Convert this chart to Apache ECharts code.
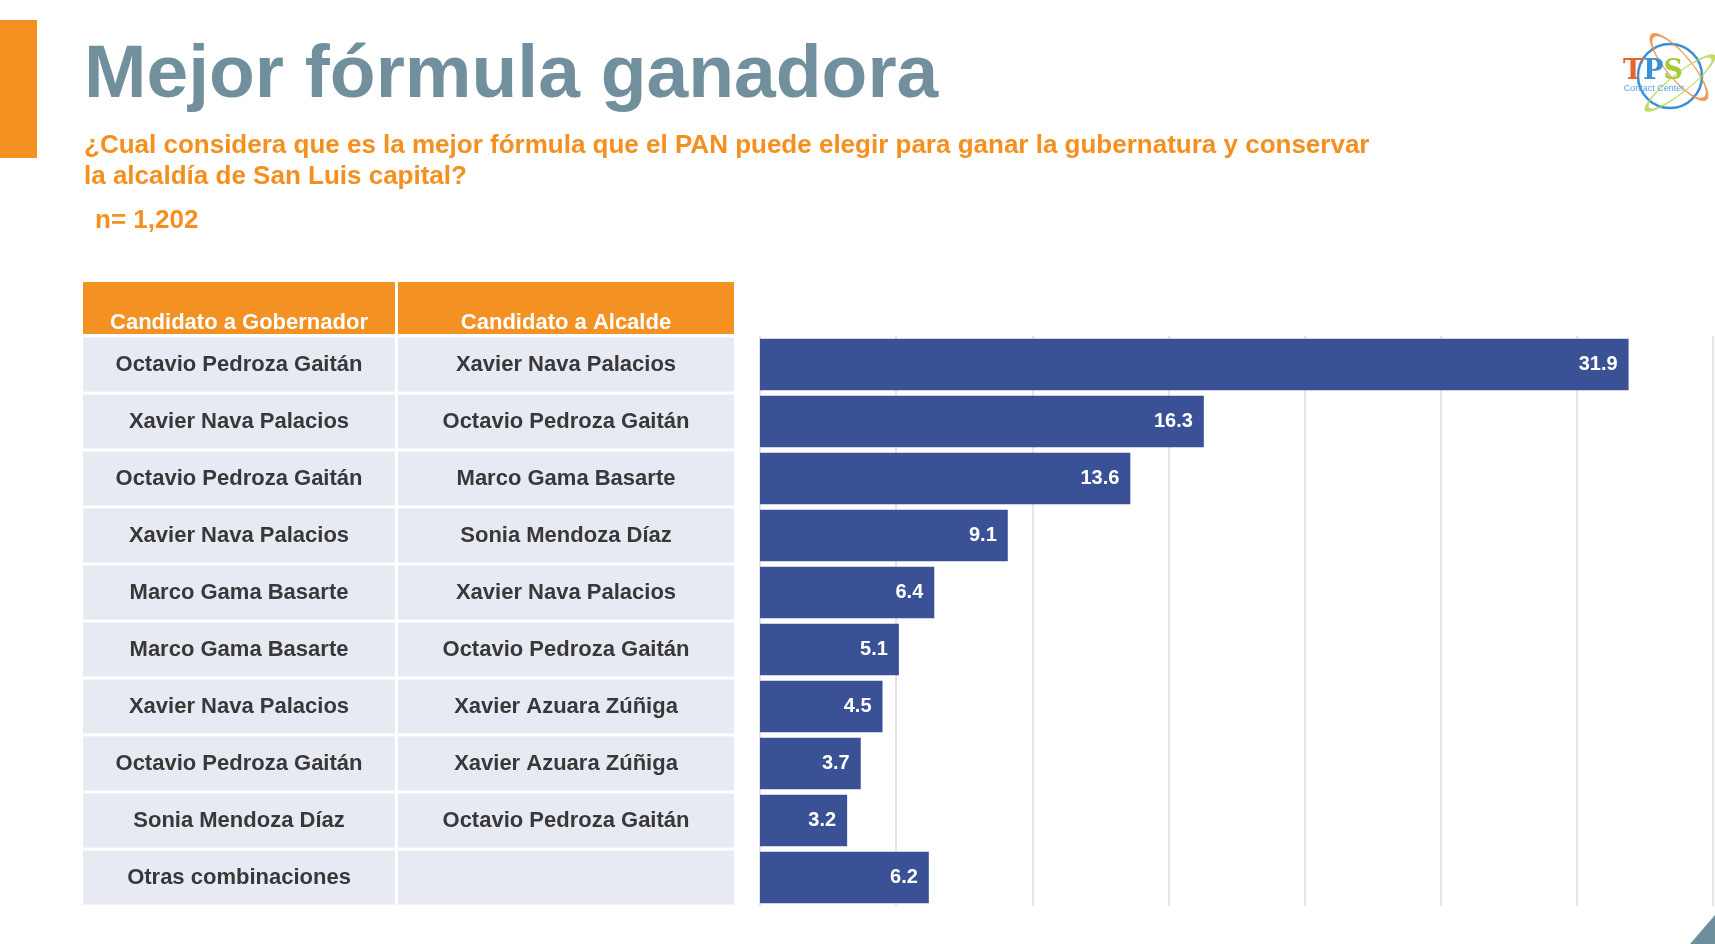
<!DOCTYPE html>
<html><head><meta charset="utf-8">
<script src="https://cdn.jsdelivr.net/npm/echarts@6/dist/echarts.min.js"></script>
<style>html,body{margin:0;padding:0;background:#fff}#c{width:1715px;height:944px}</style>
</head><body><div id="c"></div>
<script>
const titleText = 'Mejor fórmula ganadora';
const subtitleLines = ['¿Cual considera que es la mejor fórmula que el PAN puede elegir para ganar la gubernatura y conservar', 'la alcaldía de San Luis capital?'];
const sampleText = 'n= 1,202';
const headers = ['Candidato a Gobernador', 'Candidato a Alcalde'];
const gobernador = ['Octavio Pedroza Gaitán','Xavier Nava Palacios','Octavio Pedroza Gaitán','Xavier Nava Palacios','Marco Gama Basarte','Marco Gama Basarte','Xavier Nava Palacios','Octavio Pedroza Gaitán','Sonia Mendoza Díaz','Otras combinaciones'];
const alcalde = ['Xavier Nava Palacios','Octavio Pedroza Gaitán','Marco Gama Basarte','Sonia Mendoza Díaz','Xavier Nava Palacios','Octavio Pedroza Gaitán','Xavier Azuara Zúñiga','Xavier Azuara Zúñiga','Octavio Pedroza Gaitán',''];
const values = [31.9, 16.3, 13.6, 9.1, 6.4, 5.1, 4.5, 3.7, 3.2, 6.2];

const F = '"Liberation Sans", Arial, Helvetica, sans-serif';
const ORANGE = '#f39020';
const GRID_L = 760, GRID_TOP = 336, GRID_BOTTOM = 38;

const chart = echarts.init(document.getElementById('c'));
const cellLabel = (w, center) => ({
  interval: 0, margin: GRID_L - center, align: 'center', verticalAlign: 'middle',
  width: w, height: 54, lineHeight: 54, backgroundColor: '#e8eaf3',
  color: '#383838', fontFamily: F, fontWeight: 'bold', fontSize: 22,
  formatter: v => v === '' ? ' ' : v
});
chart.setOption({
  animation: false,
  grid: { left: GRID_L, right: 2, top: GRID_TOP, bottom: GRID_BOTTOM, containLabel: false },
  xAxis: { type: 'value', min: 0, max: 35, interval: 5,
    axisLabel: { show: false }, axisLine: { show: false }, axisTick: { show: false },
    splitLine: { show: true, lineStyle: { color: '#dcdcdc', width: 1.5 } } },
  yAxis: [
    { type: 'category', data: gobernador, inverse: true, position: 'left',
      axisLine: { show: false }, axisTick: { show: false }, axisLabel: cellLabel(312, 239) },
    { type: 'category', data: alcalde, inverse: true, position: 'left',
      axisLine: { show: false }, axisTick: { show: false }, axisLabel: cellLabel(336, 566) }
  ],
  series: [{
    type: 'bar', data: values, yAxisIndex: 0, barCategoryGap: '10%',
    itemStyle: { color: '#3a5196' },
    label: { show: true, position: 'insideRight', distance: 11, color: '#fff',
      fontFamily: F, fontWeight: 'bold', fontSize: 20, formatter: p => p.value.toFixed(1) }
  }],
  graphic: [
    { type: 'rect', shape: { x: 0, y: 20, width: 37, height: 138 }, style: { fill: ORANGE } },
    { type: 'text', x: 84, y: 114, style: { text: titleText, fill: '#718f9c', font: 'bold 75px ' + F, verticalAlign: 'bottom' } },
    { type: 'text', x: 84, y: 146, style: { text: subtitleLines[0], fill: ORANGE, font: 'bold 26px ' + F, verticalAlign: 'middle' } },
    { type: 'text', x: 84, y: 177, style: { text: subtitleLines[1], fill: ORANGE, font: 'bold 26px ' + F, verticalAlign: 'middle' } },
    { type: 'text', x: 95, y: 221, style: { text: sampleText, fill: ORANGE, font: 'bold 26px ' + F, verticalAlign: 'middle' } },
    { type: 'rect', shape: { x: 83, y: 282, width: 312, height: 52 }, style: { fill: '#f39123' } },
    { type: 'rect', shape: { x: 398, y: 282, width: 336, height: 52 }, style: { fill: '#f39123' } },
    { type: 'text', x: 239, y: 323, style: { text: headers[0], fill: '#fff', font: 'bold 22px ' + F, align: 'center', verticalAlign: 'middle' } },
    { type: 'text', x: 566, y: 323, style: { text: headers[1], fill: '#fff', font: 'bold 22px ' + F, align: 'center', verticalAlign: 'middle' } },
    // logo
    { type: 'circle', shape: { cx: 1670, cy: 76, r: 32 }, style: { fill: 'none', stroke: '#3b8fd8', lineWidth: 2.5 } },
    { type: 'circle', x: 1679, y: 67, rotation: 0.7, scaleX: 0.3, shape: { cx: 0, cy: 0, r: 41 }, style: { fill: 'none', stroke: '#f0883a', lineWidth: 4, opacity: 0.85 } },
    { type: 'circle', x: 1680, y: 83, rotation: -0.9, scaleX: 0.22, shape: { cx: 0, cy: 0, r: 42 }, style: { fill: 'none', stroke: '#b5d34a', lineWidth: 5, opacity: 0.85 } },
    { type: 'text', x: 1653, y: 72, style: { rich: { t: { fill: '#e8652b', font: 'bold 27px "DejaVu Serif", serif' }, p: { fill: '#3a8fd6', font: 'bold 27px "DejaVu Serif", serif' }, s: { fill: '#a6c93a', font: 'bold 27px "DejaVu Serif", serif' } }, text: '{t|T}{p|P}{s|S}', font: 'bold 27px "DejaVu Serif", serif', align: 'center', verticalAlign: 'middle' } },
    { type: 'text', x: 1654, y: 89, style: { text: 'Contact Center', fill: '#5aa0e0', font: '9px ' + F, align: 'center', verticalAlign: 'middle' } },
    { type: 'polygon', shape: { points: [[1690, 944], [1715, 915], [1715, 944]] }, style: { fill: '#6f8e9b' } }
  ]
});
</script></body></html>
